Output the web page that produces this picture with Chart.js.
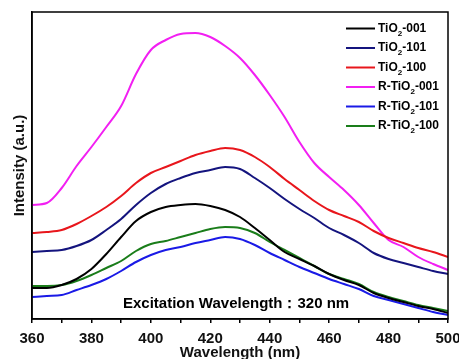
<!DOCTYPE html>
<html>
<head>
<meta charset="utf-8">
<script src="https://cdn.jsdelivr.net/npm/chart.js@4"></script>
<style>
  html, body { margin: 0; padding: 0; background: #fff; }
  #wrap { width: 459px; height: 359px; }
</style>
</head>
<body>
<div id="wrap"><canvas id="graph" width="459" height="359"></canvas></div>
<script>
// wavelength (nm), one point every 5 nm
const wavelengths = [360,365,370,375,380,385,390,395,400,405,410,415,420,425,430,435,440,445,450,455,460,465,470,475,480,485,490,495,500];

// intensities (a.u.)
const tio2_001  = [31,31,34,40,50,65,82,98,107,112,114,115,113,109,102,91,79,67,60,53,45,39,34,26,21,17,13,10,6];
const tio2_101  = [67,68,69,73,79,89,100,114,126,135,141,146,149,152,150,141,131,120,110,101,91,84,76,66,60,56,52,48,45];
const tio2_100  = [86,87,89,95,103,112,123,136,146,152,158,164,168,171,169,162,152,140,129,118,109,103,97,88,81,76,71,67,62];
const rtio2_001 = [114,116,131,153,172,192,213,245,269,279,285,286,282,273,261,244,224,202,177,156,142,129,114,96,79,72,62,55,49];
const rtio2_101 = [22,23,24,29,34,40,48,57,64,69,72,76,79,82,80,74,66,59,52,46,40,35,30,23,19,15,11,7,4];
const rtio2_100 = [33,33,34,38,44,51,58,68,75,78,82,86,90,92,91,86,77,69,61,53,45,40,35,27,22,18,14,11,8];

const seriesNames = ['TiO2-001','TiO2-101','TiO2-100','R-TiO2-001','R-TiO2-101','R-TiO2-100'];
const seriesData = [tio2_001, tio2_101, tio2_100, rtio2_001, rtio2_101, rtio2_100];
const seriesColors = ['#000000','#14147e','#e8161c','#f21ff2','#1a1ae6','#1a7d1a'];

const note = 'Excitation Wavelength\uFF1A320 nm';

const datasets = seriesData.map(function(arr, i){
  return {
    label: seriesNames[i],
    data: arr.map(function(v, j){ return {x: wavelengths[j], y: v}; }),
    borderColor: seriesColors[i],
    borderWidth: 2,
    pointRadius: 0,
    cubicInterpolationMode: 'monotone',
    fill: false
  };
});

// frame, legend inside the plot, excitation note
const extras = {
  id: 'extras',
  afterDraw: function(chart){
    const c = chart.ctx;
    const a = chart.chartArea;
    c.save();
    c.strokeStyle = '#000';
    c.lineWidth = 1.5;
    c.strokeRect(a.left, a.top, a.right - a.left, a.bottom - a.top);

    // legend
    let y = 28.5;
    seriesNames.forEach(function(name, i){
      c.strokeStyle = seriesColors[i];
      c.lineWidth = 2;
      c.beginPath();
      c.moveTo(346, y);
      c.lineTo(375, y);
      c.stroke();
      const parts = name.split('TiO2');
      let x = 378;
      c.fillStyle = '#000';
      c.textBaseline = 'middle';
      c.textAlign = 'left';
      c.font = 'bold 12px Arial';
      const head = parts[0] + 'TiO';
      c.fillText(head, x, y);
      x += c.measureText(head).width;
      c.font = 'bold 8px Arial';
      c.fillText('2', x, y + 5);
      x += c.measureText('2').width;
      c.font = 'bold 12px Arial';
      c.fillText(parts[1], x, y);
      y += 19.5;
    });

    c.font = 'bold 15px Arial';
    c.fillStyle = '#000';
    c.textAlign = 'left';
    c.textBaseline = 'middle';
    c.fillText(note, 123, 304);
    c.restore();
  }
};

new Chart(document.getElementById('graph'), {
  type: 'line',
  data: { datasets: datasets },
  plugins: [extras],
  options: {
    responsive: false,
    animation: false,
    layout: { padding: { top: 12, right: 11, left: 0, bottom: 0 } },
    plugins: { legend: { display: false }, tooltip: { enabled: false } },
    scales: {
      x: {
        type: 'linear',
        min: 360,
        max: 500,
        afterFit: function(s){ s.height = 40; s.paddingLeft = 0; s.paddingRight = 0; },
        ticks: {
          stepSize: 10,
          autoSkip: false,
          maxRotation: 0,
          color: '#111',
          padding: 7,
          font: { family: 'Arial', size: 15, weight: 'bold' },
          callback: function(v){ return v % 20 === 0 ? v : ''; }
        },
        grid: { drawOnChartArea: false, drawTicks: true, tickLength: 4, color: '#000', lineWidth: 1.5 },
        border: { color: '#000', width: 1.5 },
        title: {
          display: true,
          text: 'Wavelength (nm)',
          color: '#111',
          font: { family: 'Arial', size: 15, weight: 'bold' },
          padding: { top: 0, bottom: -3 }
        }
      },
      y: {
        min: 0,
        max: 307,
        afterFit: function(s){ s.width = 32; },
        ticks: { display: false },
        grid: { display: false },
        border: { color: '#000', width: 1.5 },
        title: {
          display: true,
          text: 'Intensity (a.u.)',
          color: '#111',
          font: { family: 'Arial', size: 15, weight: 'bold' },
          padding: { top: 11, bottom: 0 }
        }
      }
    }
  }
});
</script>
</body>
</html>
